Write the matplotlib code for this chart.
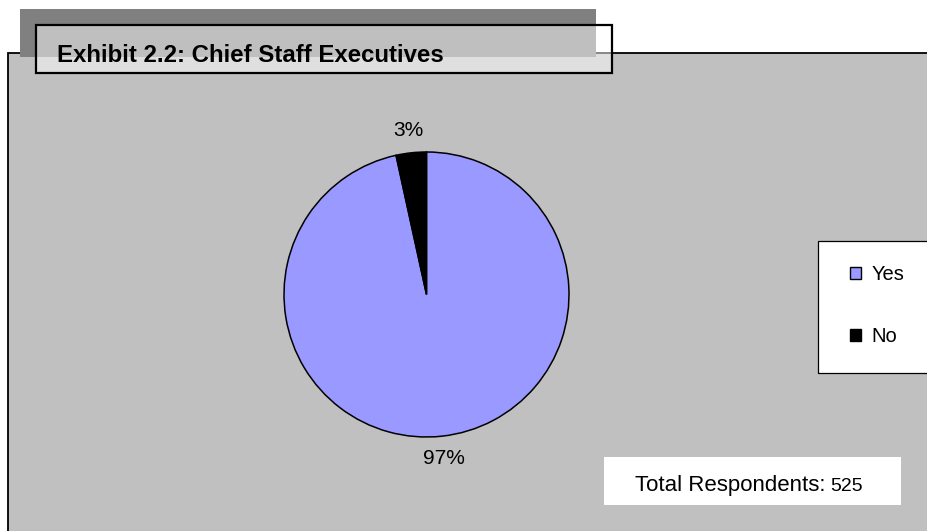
import matplotlib
matplotlib.use('Agg')
import matplotlib.pyplot as plt
from matplotlib.patches import Rectangle

# survey answers
categories = ['Yes', 'No']
counts = [507, 18]
slice_colors = ['#9999FF', '#000000']
title = 'Exhibit 2.2: Chief Staff Executives'

W, H = 928, 531
NARROW = ['Liberation Sans Narrow', 'Liberation Sans', 'DejaVu Sans']
ARIAL = ['Liberation Sans', 'DejaVu Sans']

fig = plt.figure(figsize=(W / 100, H / 100), dpi=100)
fig.patch.set_facecolor('white')

# background layer in pixel coordinates (y down)
bg = fig.add_axes([0, 0, 1, 1])
bg.set_xlim(0, W)
bg.set_ylim(H, 0)
bg.axis('off')

# chart area
bg.add_patch(Rectangle((8, 53), W, H, facecolor='#C0C0C0', edgecolor='black', lw=1.3))
# title shadow + translucent title box
bg.add_patch(Rectangle((20, 9), 576, 48, facecolor='#808080', edgecolor='none'))
bg.add_patch(Rectangle((36, 25), 576, 48, facecolor=(1, 1, 1, 0.5), edgecolor='black', lw=1.6))
bg.text(57, 62, title, fontsize=17.3, fontweight='bold', family=NARROW, va='baseline', ha='left')

# legend box
bg.add_patch(Rectangle((818, 241), 120, 132, facecolor='white', edgecolor='black', lw=0.9))

# total respondents box
bg.add_patch(Rectangle((604, 457), 297, 48, facecolor='white', edgecolor='none'))
t1 = bg.text(635, 491, 'Total Respondents:', fontsize=16, family=NARROW, va='baseline', ha='left')
fig.canvas.draw()
bb = t1.get_window_extent()
x_end = bg.transData.inverted().transform((bb.x1, bb.y0))[0]
bg.text(x_end + 5, 491, str(sum(counts)), fontsize=14, family=NARROW, va='baseline', ha='left')

# pie
cx, cy, r = 426.5, 294.5, 142.5
ax = fig.add_axes([(cx - r) / W, (H - cy - r) / H, 2 * r / W, 2 * r / H])
ax.set_facecolor('none')
wedges, texts, autotexts = ax.pie(
    counts, colors=slice_colors, startangle=90, counterclock=False,
    autopct=lambda p: '{:.0f}%'.format(p), pctdistance=1.16,
    wedgeprops={'edgecolor': 'black', 'linewidth': 1.1},
    textprops={'fontsize': 15, 'family': ARIAL, 'color': 'black'})
for t in autotexts:
    t.set_color('black')
ax.set_xlim(-1, 1)
ax.set_ylim(-1, 1)

leg = ax.legend(wedges, categories, loc='upper left',
                bbox_to_anchor=(840 / W, 1 - 255 / H), bbox_transform=fig.transFigure,
                frameon=False, borderpad=0, handlelength=0.56, handleheight=0.56,
                handletextpad=0.5, labelspacing=2.15, prop={'family': ARIAL, 'size': 14.5})
for h in leg.legend_handles:
    h.set_linewidth(1.0)

fig.savefig('out.png', dpi=100)
